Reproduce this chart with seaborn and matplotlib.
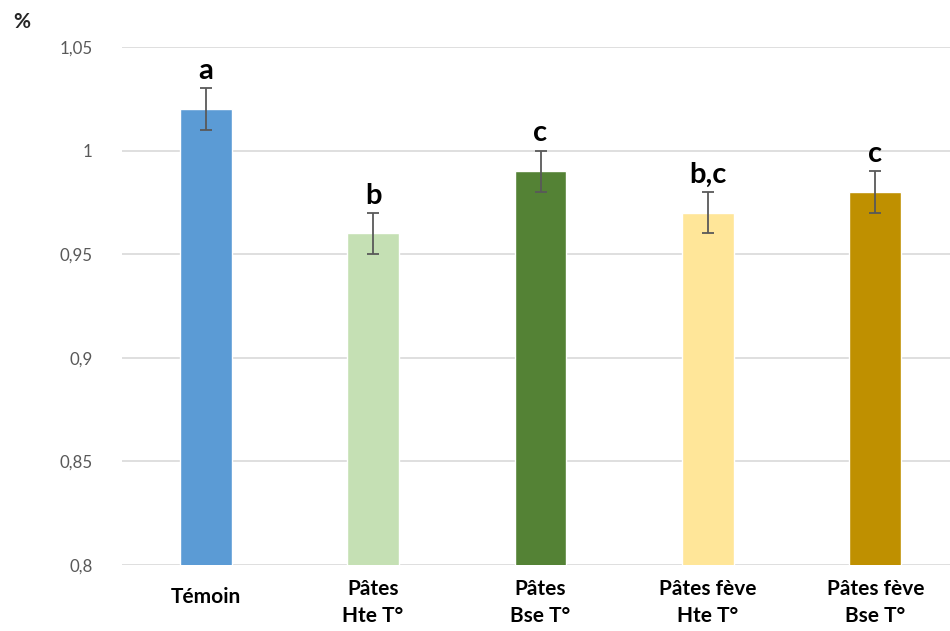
import matplotlib
matplotlib.use("Agg")
import matplotlib.pyplot as plt
import matplotlib.transforms as mtransforms
import seaborn as sns
import pandas as pd

categories = ["Témoin", "Pâtes\nHte T°", "Pâtes\nBse T°", "Pâtes fève\nHte T°", "Pâtes fève\nBse T°"]
values = [1.02, 0.96, 0.99, 0.97, 0.98]
errors = [0.01, 0.01, 0.01, 0.01, 0.01]
letters = ["a", "b", "c", "b,c", "c"]
colors = ["#5B9BD5", "#C5E0B4", "#548235", "#FFE699", "#BF9000"]
yticks = [0.8, 0.85, 0.9, 0.95, 1.0, 1.05]
ytick_labels = ["0,8", "0,85", "0,9", "0,95", "1", "1,05"]

sns.set_style("white")
plt.rcParams["font.family"] = ["Lato", "DejaVu Sans"]

df = pd.DataFrame({"cat": categories, "val": values})

fig = plt.figure(figsize=(9.5, 6.31), dpi=100)
ax = fig.add_axes([122 / 950, 66 / 631, (959 - 122) / 950, (565 - 47) / 631])

sns.barplot(data=df, x="cat", y="val", hue="cat", palette=colors,
            width=0.31, legend=False, ax=ax, saturation=1)
ax.errorbar(range(len(values)), values, yerr=errors, fmt="none",
            ecolor="#595959", elinewidth=1.3, capsize=4.5, capthick=1.3, zorder=3)

for i, (v, e, t) in enumerate(zip(values, errors, letters)):
    ax.text(i, v + e + 0.002, t, ha="center", va="bottom",
            fontsize=21, fontweight="bold", color="black")

ax.set_ylim(0.8, 1.05)
ax.set_xlim(-0.5, 4.5)
ax.set_yticks(yticks)
ax.set_yticklabels(ytick_labels, color="#595959", fontsize=12.2)
ax.yaxis.grid(True, color="#D9D9D9", linewidth=1.2)
ax.set_axisbelow(True)
for s in ax.spines.values():
    s.set_visible(False)
ax.tick_params(axis="y", length=0, pad=21)
ax.tick_params(axis="x", length=0, pad=10)
ax.set_xticks(range(len(categories)))
ax.set_xticklabels(categories, fontsize=15, fontweight="bold", color="black",
                   linespacing=1.45)
ax.set_xlabel("")
ax.set_ylabel("")

# single-line label sits a little lower than the first line of the others
first = ax.get_xticklabels()[0]
first.set_transform(first.get_transform()
                    + mtransforms.ScaledTranslation(0, -0.08, fig.dpi_scale_trans))

fig.text(13 / 950, 1 - 22 / 631, "%", fontsize=15, fontweight="bold",
         ha="left", va="center")

fig.savefig("out.png", dpi=100)
